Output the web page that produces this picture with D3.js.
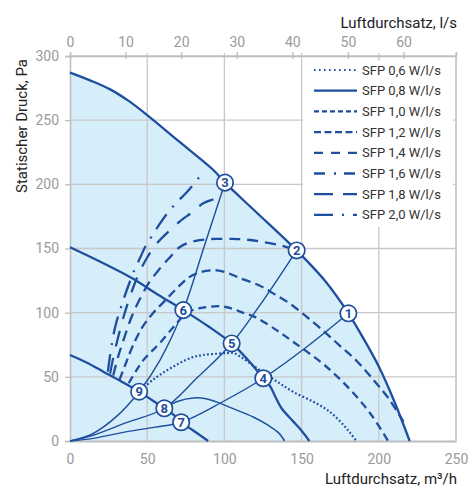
<!doctype html>
<html>
<head>
<meta charset="utf-8">
<title>Luftdurchsatz</title>
<style>
body { margin: 0; background: #fff; }
text { font-family: Roboto, "Noto Sans", sans-serif; }
</style>
</head>
<body>
<div id="here"></div>
<script src="https://d3js.org/d3.v7.min.js"></script>
<script>
var w = 471, h = 487;
var blue = "#1d4f9e";

// ticks
var xTicks = [0, 50, 100, 150, 200, 250];
var yTicks = [0, 50, 100, 150, 200, 250, 300];
var lsTicks = [0, 10, 20, 30, 40, 50, 60];

// Ventilatorkennlinien (m3/h, Pa)
var fanMax = [[0,287],[13,281],[26,274],[38,265],[51,253],[70,234],[93,211],[100.4,201.3],[120,179],[146.8,148.5],[165,125],[180.3,99.5],[190,80],[200,58],[210,31],[220,0]];
var fanMid = [[0,151],[20,139.5],[40,127],[57,114],[73.4,102],[90,89],[104.7,76],[115,63.5],[125.2,48.9],[129.5,43],[133,34.5],[137,25.5],[144,16],[150,8],[155,0]];
var fanLow = [[0,67],[11,61],[21.6,54],[33,46.5],[44.8,38.4],[53,32],[61.1,25.5],[67,20.5],[72,14.6],[80,8],[89.5,0]];

// Anlagenkennlinien
var sys1 = [[0,0],[15,2],[37,7.3],[55,10.8],[72,14.6],[98,30],[125.2,48.9],[153,73],[180.3,99.5]];
var sys2 = [[0,0],[15,4.5],[37,14.5],[61.1,25.5],[83,50],[104.7,76],[126,111],[146.8,148.5]];
var sys3 = [[0,0],[15,6],[30,19],[44.8,38.4],[58.3,63],[73.4,102],[87,152],[100.4,201.3]];

// SFP-Linien
var sfp06 = [[48,42],[54,48],[60,53],[67,58],[73,62],[80,65.5],[86,67],[95,68],[102,68.5],[106,68.5],[110,66],[115,62],[122,56],[130,49.5],[137,44],[145,38],[157,31],[165,25.5],[170,21],[176,14],[181,7],[185.5,0]];
var sfp08 = [[61.1,25.5],[70,31],[80,33.5],[88,33],[97,29.5],[104,26],[119,18.5],[128,12.5],[135,6.5],[139,0]];
var sfp10 = [[38,45],[43,55],[47.5,63],[53,70],[58,76],[65,86],[70,93],[75,99],[80,102.3],[88,104.3],[97,105],[104,103.5],[112,100],[120,96.5],[133,87],[142.5,79],[153,70],[164,60],[175,48],[186,34],[196,19],[206,0]];
var sfp12 = [[32,47.5],[36,60],[41,75],[47,89],[54,100],[62,110],[68,117.5],[73.5,124],[77,127.5],[82,130.5],[88,132.5],[95,133],[102,131],[110,127],[123,121],[133,114],[142.5,107],[152,98],[163,87],[175,74],[186,62],[197,47],[207,32],[216,15]];
var sfp14 = [[28,51],[31,65],[35,80],[40,97],[45,110],[52,125],[56,131],[60,137],[65,143.5],[71,151],[78,155],[87,157],[95,157.5],[105,157.5],[113,157],[123,155.5],[136,152.5],[146.8,148.5]];
var sfp18 = [[26,52.5],[28,65],[31,80],[35,98],[39,113],[44,129],[50,143],[57,155],[65,164.5],[71,171],[80,179],[86,185],[92,188],[98,190]];
var sfp20 = [[24.5,54],[25.5,63],[27,75],[29.5,90],[33.5,106],[37.5,120],[42,134],[45.5,143],[49,152],[53.5,160.5],[58,169],[64,179],[70,187],[75,193],[80,200],[86,209]];

// Betriebspunkte
var markerNr = [1, 2, 3, 4, 5, 6, 7, 8, 9];
var markerQ = [180.3, 146.8, 100.4, 125.2, 104.7, 73.4, 72, 61.1, 44.8];
var markerP = [99.5, 148.5, 201.3, 48.9, 76, 102, 14.6, 25.5, 38.4];

var legendLabels = ["SFP 0,6 W/l/s", "SFP 0,8 W/l/s", "SFP 1,0 W/l/s", "SFP 1,2 W/l/s", "SFP 1,4 W/l/s", "SFP 1,6 W/l/s", "SFP 1,8 W/l/s", "SFP 2,0 W/l/s"];
var legendDash = ["1.6,3.4", null, "5,3", "7,3.5", "9,8", "11,9,2,8", "19,10", "19,9,2,9"];

var x = d3.scaleLinear().domain([0, 250]).range([70, 456]);
var y = d3.scaleLinear().domain([0, 300]).range([441, 56]);
var xls = d3.scaleLinear().domain([0, 250 / 3.6]).range([70, 456]);

var svg = d3.select("#here").append("svg")
  .attr("width", w)
  .attr("height", h);

var line = d3.line()
  .x(function(d) { return x(d[0]); })
  .y(function(d) { return y(d[1]); })
  .curve(d3.curveCatmullRom.alpha(0.5));

// hellblaue Fläche unter der Maximalkurve
svg.append("path")
  .datum(fanMax)
  .attr("d", d3.area()
    .x(function(d) { return x(d[0]); })
    .y0(y(0))
    .y1(function(d) { return y(d[1]); })
    .curve(d3.curveCatmullRom.alpha(0.5)))
  .attr("fill", "#d6edfa");

// Gitter
svg.append("g").selectAll("line").data(xTicks.slice(1)).enter().append("line")
  .attr("x1", function(d) { return x(d); }).attr("x2", function(d) { return x(d); })
  .attr("y1", 53).attr("y2", y(0))
  .attr("stroke", "#c8c8c8").attr("stroke-width", 1.3);
svg.append("g").selectAll("line").data(yTicks.slice(1)).enter().append("line")
  .attr("x1", x(0)).attr("x2", x(250))
  .attr("y1", function(d) { return y(d); }).attr("y2", function(d) { return y(d); })
  .attr("stroke", "#c8c8c8").attr("stroke-width", 1.3);

// Achsen
var gx = svg.append("g")
  .attr("transform", "translate(0," + y(0) + ")")
  .call(d3.axisBottom(x).tickValues(xTicks).tickSize(0).tickPadding(13));
var gy = svg.append("g")
  .attr("transform", "translate(" + x(0) + ",0)")
  .call(d3.axisLeft(y).tickValues(yTicks).tickSize(5).tickPadding(6));
var gt = svg.append("g")
  .attr("transform", "translate(0," + y(300) + ")")
  .call(d3.axisTop(xls).tickValues(lsTicks).tickSize(4).tickPadding(5));
gt.selectAll(".tick line").attr("y2", -4).attr("y1", 3);

[gx, gy, gt].forEach(function(g) {
  g.select(".domain").attr("stroke", "#bdbdbd").attr("stroke-width", 1.5);
  g.selectAll(".tick line").attr("stroke", "#bdbdbd").attr("stroke-width", 1.3);
  g.selectAll(".tick text")
    .attr("fill", "#9a9a9a")
    .attr("font-size", 14)
    .attr("font-family", "'Noto Sans', sans-serif");
});
gx.select(".domain").attr("stroke-width", 2.2);

svg.append("line")
  .attr("x1", x(250)).attr("x2", x(250))
  .attr("y1", y(300)).attr("y2", y(0))
  .attr("stroke", "#c8c8c8").attr("stroke-width", 1.3);

// Achsentitel
svg.append("text")
  .attr("x", 457).attr("y", 28)
  .attr("text-anchor", "end")
  .attr("font-size", 15)
  .attr("fill", "#222")
  .text("Luftdurchsatz, l/s");
svg.append("text")
  .attr("x", 457).attr("y", 484)
  .attr("text-anchor", "end")
  .attr("font-size", 15)
  .attr("fill", "#222")
  .text("Luftdurchsatz, m³/h");
svg.append("text")
  .attr("transform", "translate(27,126) rotate(-90)")
  .attr("text-anchor", "middle")
  .attr("font-size", 15)
  .attr("fill", "#222")
  .text("Statischer Druck, Pa");

// Kurven
function curve(data, width, dash) {
  svg.append("path")
    .datum(data)
    .attr("d", line)
    .attr("fill", "none")
    .attr("stroke", blue)
    .attr("stroke-width", width)
    .attr("stroke-dasharray", dash);
}

curve(sys1, 1.4, null);
curve(sys2, 1.4, null);
curve(sys3, 1.4, null);

curve(sfp06, 2.2, "1.8,2.2");
curve(sfp08, 1.5, null);
curve(sfp10, 2.3, "8,5");
curve(sfp12, 2.3, "9,5");
curve(sfp14, 2.3, "11,7");
curve(sfp18, 2.3, "16,12");
curve(sfp20, 2.3, "18,9,2,9");

curve(fanMax, 2.3, null);
curve(fanMid, 2.3, null);
curve(fanLow, 2.3, null);

// Betriebspunkte
var mk = svg.append("g").selectAll("g")
  .data(markerNr)
  .enter()
  .append("g")
  .attr("transform", function(d, i) { return "translate(" + x(markerQ[i]) + "," + y(markerP[i]) + ")"; });
mk.append("circle")
  .attr("r", 8.2)
  .attr("fill", "#fff")
  .attr("stroke", blue)
  .attr("stroke-width", 1.7);
mk.append("text")
  .attr("text-anchor", "middle")
  .attr("dy", "0.36em")
  .attr("font-size", 13)
  .attr("font-weight", "bold")
  .attr("font-family", "'Noto Sans', sans-serif")
  .attr("fill", blue)
  .text(function(d) { return d; });

// Legende
svg.append("rect")
  .attr("x", 303).attr("y", 61)
  .attr("width", 150).attr("height", 166)
  .attr("fill", "#fff");

var leg = svg.append("g").selectAll("g")
  .data(legendLabels)
  .enter()
  .append("g")
  .attr("transform", function(d, i) { return "translate(0," + (70 + i * 20.7) + ")"; });
leg.append("line")
  .attr("x1", 314).attr("x2", 357)
  .attr("stroke", blue)
  .attr("stroke-width", function(d, i) { return i == 0 ? 2 : 2.3; })
  .attr("stroke-dasharray", function(d, i) { return legendDash[i]; });
leg.append("text")
  .attr("x", 362)
  .attr("dy", "0.35em")
  .attr("font-size", 13)
  .attr("fill", "#333")
  .text(function(d) { return d; });
</script>
</body>
</html>
